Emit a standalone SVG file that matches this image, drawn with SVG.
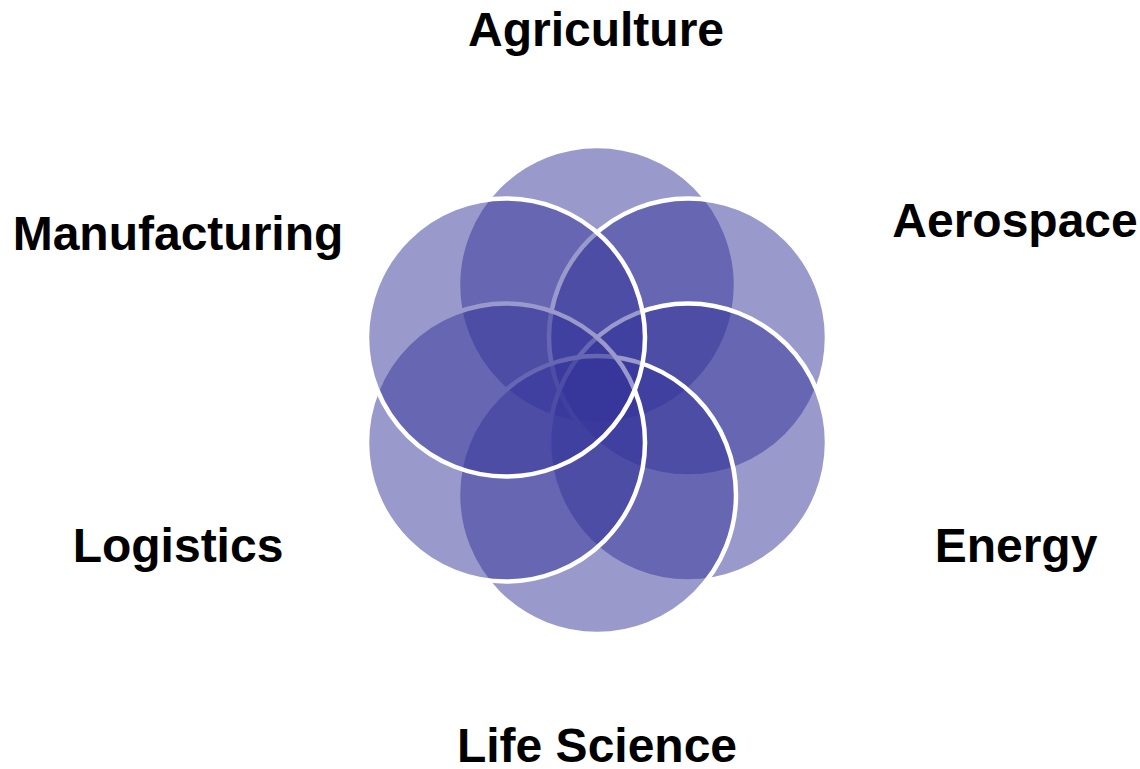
<svg xmlns="http://www.w3.org/2000/svg" width="1140" height="769" viewBox="0 0 1140 769">
<style>
.c{fill:#333399;fill-opacity:0.5;stroke:#ffffff;stroke-width:4.5}
.t{font-family:"Liberation Sans",Arial,sans-serif;font-weight:bold;font-size:48px;fill:#000000;text-anchor:middle}
</style>
<rect width="1140" height="769" fill="#ffffff"/>
<g id="circles">
<g id="node-agriculture"><circle class="c" cx="597" cy="285" r="139"/></g>
<g id="node-aerospace"><circle class="c" cx="688" cy="337.5" r="139"/></g>
<g id="node-energy"><circle class="c" cx="688" cy="442.5" r="139"/></g>
<g id="node-lifescience"><circle class="c" cx="597" cy="495" r="139"/></g>
<g id="node-logistics"><circle class="c" cx="506" cy="442.5" r="139"/></g>
<g id="node-manufacturing"><circle class="c" cx="506" cy="337.5" r="139"/></g>
</g>
<g id="connectors"></g>
<g id="labels">
<text class="t" x="596" y="46">Agriculture</text>
<text class="t" x="1015" y="237">Aerospace</text>
<text class="t" x="1016" y="562">Energy</text>
<text class="t" x="597" y="762">Life Science</text>
<text class="t" x="178" y="562">Logistics</text>
<text class="t" x="178" y="250">Manufacturing</text>
</g>
</svg>
